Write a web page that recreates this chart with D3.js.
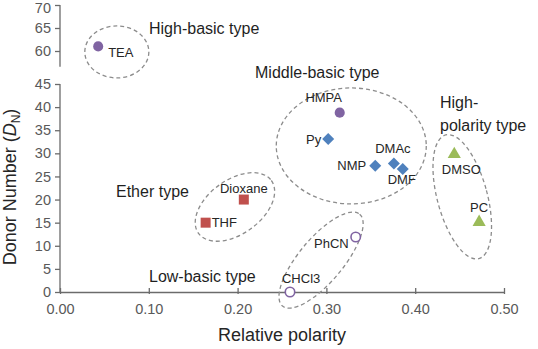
<!DOCTYPE html>
<html>
<head>
<meta charset="utf-8">
<style>
    body { margin: 0; background: #fff; }
    svg { font-family: "Liberation Sans", Arial, sans-serif; }
    .tick text { font-size: 14.5px; fill: #595959; }
    .axis line, .axis path { stroke: #6b6b6b; stroke-width: 1.3; }
    .ptlabel { font-size: 13px; fill: #262626; }
    .group-label { font-size: 16px; fill: #1f1f1f; }
    .axis-title { font-size: 18px; fill: #262626; }
    .ring { fill: none; stroke: #8c8c8c; stroke-width: 1.3; stroke-dasharray: 4,3; }
</style>
</head>
<body>
<svg width="538" height="349"></svg>
<script src="https://d3js.org/d3.v7.min.js"></script>
<script>
    // solvents
    let highBasicNames = ["TEA", "HMPA"]
    let highBasicX = [0.043, 0.315]
    let highBasicY = [61.0, 38.8]

    let amideNames = ["Py", "NMP", "DMAc", "DMF"]
    let amideX = [0.302, 0.355, 0.376, 0.386]
    let amideY = [33.1, 27.3, 27.8, 26.6]

    let polarNames = ["DMSO", "PC"]
    let polarX = [0.444, 0.472]
    let polarY = [29.8, 15.1]

    let lowNames = ["PhCN", "CHCl3"]
    let lowX = [0.333, 0.259]
    let lowY = [11.9, 0]

    let etherNames = ["THF", "Dioxane"]
    let etherX = [0.164, 0.207]
    let etherY = [15.0, 20.0]

    let xTicks = [0, 0.1, 0.2, 0.3, 0.4, 0.5]
    let yTicksLow = [0, 5, 10, 15, 20, 25, 30, 35, 40, 45]
    let yTicksHigh = [60, 65, 70]

    let svg = d3.select("svg")

    let x = d3.scaleLinear().domain([0, 0.5]).range([60, 504])
    // broken y axis: two pieces with the same px per unit
    let yLow = d3.scaleLinear().domain([0, 45]).range([292, 84])
    let yHigh = d3.scaleLinear().domain([60, 70]).range([51, 5])
    let y = v => v >= 50 ? yHigh(v) : yLow(v)

    // axes
    svg.append("g")
        .attr("class", "x axis")
        .attr("transform", "translate(0,292)")
        .call(d3.axisBottom(x).tickValues(xTicks).tickFormat(d3.format(".2f")).tickSizeInner(-4).tickSizeOuter(0).tickPadding(12))
        .call(g => g.selectAll(".tick line").attr("y1", 2))

    svg.append("g")
        .attr("class", "y axis")
        .attr("transform", "translate(60,0)")
        .call(d3.axisLeft(yLow).tickValues(yTicksLow).tickSize(5).tickPadding(4))
        .call(g => g.select(".domain").attr("d", `M0,${yLow(0)}V${yLow(45)}`))

    svg.append("g")
        .attr("class", "y axis")
        .attr("transform", "translate(60,0)")
        .call(d3.axisLeft(yHigh).tickValues(yTicksHigh).tickSize(5).tickPadding(4))
        .call(g => g.select(".domain").attr("d", `M0,${yHigh(70)}V${yHigh(56.6)}`))
        // top label sits against the edge, keep it inside
        .call(g => g.selectAll(".tick text").filter(d => d === 70).attr("dy", "0.5em"))

    svg.append("text")
        .attr("class", "axis-title")
        .attr("x", 282).attr("y", 341)
        .attr("text-anchor", "middle")
        .text("Relative polarity")

    let yTitle = svg.append("text")
        .attr("class", "axis-title")
        .attr("transform", "translate(16,187) rotate(-90)")
        .attr("text-anchor", "middle")
    yTitle.append("tspan").text("Donor Number (")
    yTitle.append("tspan").style("font-style", "italic").text("D")
    yTitle.append("tspan").attr("font-size", 12).attr("dy", 4).text("N")
    yTitle.append("tspan").attr("dy", -4).text(")")

    // dashed rings round each type (centre in data units, radii in px)
    let rings = [
        { cx: 0.064, cy: 59.8, rx: 32, ry: 26, rot: 0 },
        { cx: 0.328, cy: 31.6, rx: 75, ry: 58, rot: 0 },
        { cx: 0.453, cy: 20.6, rx: 25, ry: 64, rot: -15 },
        { cx: 0.197, cy: 18.4, rx: 45, ry: 27, rot: -36 },
        { cx: 0.294, cy: 6.9, rx: 60, ry: 22, rot: -50 }
    ]
    svg.append("g")
        .selectAll("ellipse")
        .data(rings)
        .join("ellipse")
        .attr("class", "ring")
        .attr("rx", d => d.rx)
        .attr("ry", d => d.ry)
        .attr("transform", d => `translate(${x(d.cx)},${y(d.cy)}) rotate(${d.rot})`)

    // markers
    let series = [
        { names: highBasicNames, xs: highBasicX, ys: highBasicY, type: d3.symbolCircle, size: 80, fill: "#8064a2", stroke: "none", rot: 0 },
        { names: amideNames, xs: amideX, ys: amideY, type: d3.symbolSquare, size: 72, fill: "#4f81bd", stroke: "none", rot: 45 },
        { names: polarNames, xs: polarX, ys: polarY, type: d3.symbolTriangle, size: 75, fill: "#9bbb59", stroke: "none", rot: 0 },
        { names: lowNames, xs: lowX, ys: lowY, type: d3.symbolCircle, size: 70, fill: "#fff", stroke: "#8064a2", rot: 0 },
        { names: etherNames, xs: etherX, ys: etherY, type: d3.symbolSquare, size: 100, fill: "#c0504d", stroke: "none", rot: 0 }
    ]
    series.forEach(s => {
        svg.append("g")
            .selectAll("path")
            .data(s.names.map((n, i) => ({ name: n, x: s.xs[i], y: s.ys[i] })))
            .join("path")
            .attr("d", d3.symbol().type(s.type).size(s.size))
            .attr("transform", d => `translate(${x(d.x)},${y(d.y)}) rotate(${s.rot})`)
            .attr("fill", s.fill)
            .attr("stroke", s.stroke)
            .attr("stroke-width", 1.6)
    })

    // point labels: offset from the marker
    let labelPos = {
        TEA: [10, 6, "start"], HMPA: [-16, -15, "middle"], Py: [-7, 0, "end"],
        NMP: [-9, 0, "end"], DMAc: [-1, -15, "middle"], DMF: [-1, 10, "middle"],
        DMSO: [7, 15, "middle"], PC: [0, -15, "middle"], PhCN: [-7, 6, "end"],
        CHCl3: [-8, -14, "start"], THF: [6, 0, "start"], Dioxane: [0, -11, "middle"]
    }
    series.forEach(s => {
        s.names.forEach((n, i) => {
            let p = labelPos[n]
            svg.append("text")
                .attr("class", "ptlabel")
                .attr("x", x(s.xs[i]) + p[0])
                .attr("y", y(s.ys[i]) + p[1])
                .attr("dy", "0.35em")
                .attr("text-anchor", p[2])
                .text(n)
        })
    })

    // type labels
    let groupLabels = [
        ["High-basic type", 149, 28],
        ["Middle-basic type", 255, 72],
        ["High-", 440, 102],
        ["polarity type", 440, 125],
        ["Ether type", 116, 191],
        ["Low-basic type", 149, 276]
    ]
    svg.append("g")
        .selectAll("text")
        .data(groupLabels)
        .join("text")
        .attr("class", "group-label")
        .attr("x", d => d[1])
        .attr("y", d => d[2])
        .attr("dy", "0.35em")
        .text(d => d[0])
</script>
</body>
</html>
